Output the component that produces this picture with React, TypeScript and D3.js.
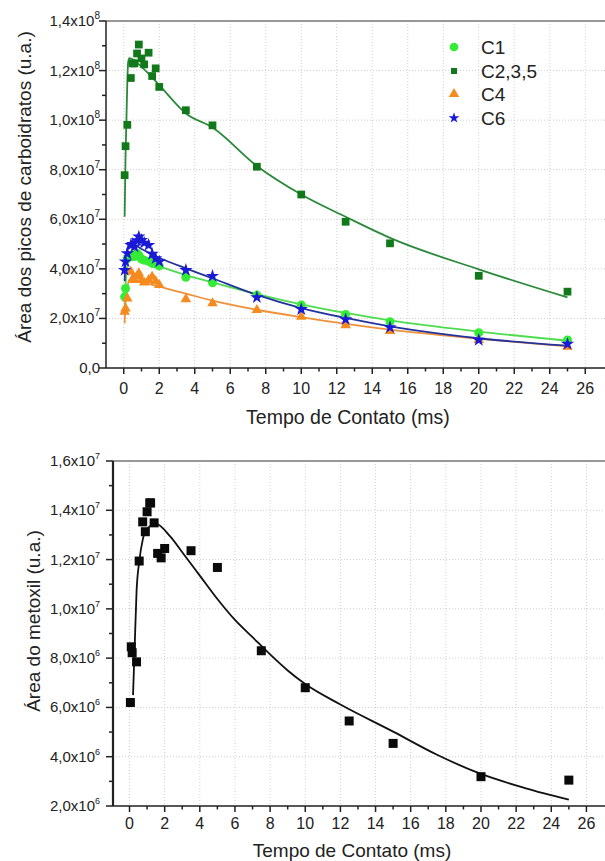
import React from 'react';
import * as d3 from 'd3';

const W = 605;
const H = 861;
const FONT = '"Liberation Sans", Arial, sans-serif';

// ---- top chart: carbohydrate peak areas ----
const tPts = [0.05, 0.1, 0.2, 0.4, 0.5, 0.6, 0.75, 0.85, 1.0, 1.15, 1.4, 1.6, 1.8, 2.0, 3.5, 5, 7.5, 10, 12.5, 15, 20, 25];
const c1Vals = [2.87e7, 3.21e7, 4.42e7, 4.5e7, 4.56e7, 4.5e7, 4.62e7, 4.55e7, 4.4e7, 4.35e7, 4.3e7, 4.22e7, 4.2e7, 4.12e7, 3.66e7, 3.44e7, 2.94e7, 2.54e7, 2.16e7, 1.87e7, 1.42e7, 1.13e7];
const c235Vals = [7.78e7, 8.95e7, 9.81e7, 1.17e8, 1.229e8, 1.229e8, 1.269e8, 1.305e8, 1.249e8, 1.225e8, 1.272e8, 1.178e8, 1.209e8, 1.134e8, 1.04e8, 9.79e7, 8.12e7, 7.0e7, 5.9e7, 5.03e7, 3.72e7, 3.08e7];
const c4Vals = [2.27e7, 2.4e7, 2.81e7, 3.88e7, 3.6e7, 3.55e7, 3.7e7, 3.82e7, 3.55e7, 3.45e7, 3.55e7, 3.68e7, 3.5e7, 3.35e7, 2.78e7, 2.61e7, 2.34e7, 2.07e7, 1.73e7, 1.49e7, 1.13e7, 0.86e7];
const c6Vals = [3.95e7, 4.29e7, 4.62e7, 4.96e7, 5.0e7, 4.9e7, 5.15e7, 5.3e7, 5.16e7, 5.05e7, 4.96e7, 4.6e7, 4.42e7, 4.29e7, 3.95e7, 3.71e7, 2.85e7, 2.37e7, 1.96e7, 1.64e7, 1.13e7, 0.97e7];

// fitted curves
const fitT = [0.05, 0.1, 0.2, 0.35, 1, 2, 3.5, 5, 7.5, 10, 12.5, 15, 20, 25];
const c1Fit = [2.4e7, 3.3e7, 4.1e7, 4.5e7, 4.35e7, 4.1e7, 3.75e7, 3.45e7, 2.98e7, 2.57e7, 2.22e7, 1.92e7, 1.47e7, 1.1e7];
const c4Fit = [1.8e7, 2.6e7, 3.25e7, 3.55e7, 3.45e7, 3.28e7, 3.0e7, 2.72e7, 2.35e7, 2.05e7, 1.78e7, 1.55e7, 1.18e7, 0.87e7];
const c6Fit = [3.5e7, 4.3e7, 4.8e7, 5.02e7, 4.8e7, 4.45e7, 4.02e7, 3.62e7, 2.95e7, 2.42e7, 2.02e7, 1.68e7, 1.2e7, 0.9e7];
const c235FitT = [0.05, 0.1, 0.15, 0.2, 0.25, 0.32, 1, 2, 3.5, 5, 7.5, 10, 12.5, 15, 20, 25];
const c235Fit = [6.1e7, 8.5e7, 1.0e8, 1.15e8, 1.235e8, 1.25e8, 1.215e8, 1.141e8, 1.027e8, 9.7e7, 8.15e7, 7.0e7, 6.1e7, 5.25e7, 3.98e7, 2.85e7];

// ---- bottom chart: methoxyl area ----
const tMet = [0.05, 0.1, 0.15, 0.4, 0.55, 0.75, 0.9, 1.0, 1.15, 1.2, 1.4, 1.6, 1.8, 2.0, 3.5, 5, 7.5, 10, 12.5, 15, 20, 25];
const metVals = [6.2e6, 8.46e6, 8.22e6, 7.85e6, 1.194e7, 1.353e7, 1.313e7, 1.394e7, 1.43e7, 1.43e7, 1.349e7, 1.225e7, 1.207e7, 1.245e7, 1.236e7, 1.168e7, 8.3e6, 6.8e6, 5.45e6, 4.54e6, 3.19e6, 3.05e6];
const metFitT = [0.2, 0.3, 0.4, 0.55, 0.75, 1.0, 1.5, 2.3, 3, 4, 5, 6, 7, 8, 9, 10, 12, 15, 17.5, 20, 22.5, 25];
const metFit = [6.5e6, 8.6e6, 1.07e7, 1.19e7, 1.28e7, 1.325e7, 1.345e7, 1.295e7, 1.23e7, 1.135e7, 1.04e7, 9.55e6, 8.85e6, 8.15e6, 7.5e6, 6.95e6, 6.12e6, 5.02e6, 4.08e6, 3.3e6, 2.73e6, 2.26e6];

const xTicks = d3.range(0, 27, 2);
const xMinor = d3.range(1, 27, 2);

type Series = { name: string; vals: number[]; fit: number[]; fitT: number[]; color: string; line: string; symbol: d3.SymbolType; size: number; legSize: number };

const series: Series[] = [
  { name: 'C1', vals: c1Vals, fit: c1Fit, fitT, color: '#35ec35', line: '#4cdd4c', symbol: d3.symbolCircle, size: 64, legSize: 60 },
  { name: 'C2,3,5', vals: c235Vals, fit: c235Fit, fitT: c235FitT, color: '#12791a', line: '#2a8a3a', symbol: d3.symbolSquare, size: 60, legSize: 36 },
  { name: 'C4', vals: c4Vals, fit: c4Fit, fitT, color: '#f58a1f', line: '#f0913a', symbol: d3.symbolTriangle, size: 48, legSize: 48 },
  { name: 'C6', vals: c6Vals, fit: c6Fit, fitT, color: '#1a1ad6', line: '#22339e', symbol: d3.symbolStar, size: 55, legSize: 36 },
];

function sciLabel(v: number) {
  if (v === 0) return { m: '0,0', e: '' };
  const e = Math.floor(Math.log10(v) + 1e-9);
  const m = (v / Math.pow(10, e)).toFixed(1).replace('.', ',');
  return { m: m + 'x10', e: String(e) };
}

function Axes({ x, y, yMajor, yMinor, gridColor, leftW, tickFont, supFont, xLabY, yTickX }: any) {
  const [x0] = x.range();
  const [yb, yt] = y.range();
  return (
    <g>
      {/* grid */}
      {xTicks.map((t) => (
        <line key={'gx' + t} x1={x(t)} x2={x(t)} y1={yt} y2={yb} stroke={gridColor} strokeDasharray="1 2" />
      ))}
      {yMajor.map((v: number) => (
        <line key={'gy' + v} x1={x0} x2={W} y1={y(v)} y2={y(v)} stroke={gridColor} strokeDasharray="1 2" />
      ))}
      {/* frame */}
      <line x1={x0} x2={W} y1={yt} y2={yt} stroke="#777" strokeWidth={1.5} />
      <line x1={x0} x2={W} y1={yb} y2={yb} stroke="#222" strokeWidth={1.5} />
      <line x1={x0} x2={x0} y1={yt} y2={yb} stroke="#222" strokeWidth={leftW} />
      {/* x ticks */}
      {xTicks.map((t) => (
        <g key={'xt' + t}>
          <line x1={x(t)} x2={x(t)} y1={yb} y2={yb + 6} stroke="#222" strokeWidth={1.5} />
          <text x={x(t)} y={xLabY} textAnchor="middle" fontSize={tickFont} fill="#222">{t}</text>
        </g>
      ))}
      {xMinor.map((t) => (
        <line key={'xm' + t} x1={x(t)} x2={x(t)} y1={yb} y2={yb + 3.5} stroke="#222" strokeWidth={1.5} />
      ))}
      {/* y ticks */}
      {yMajor.map((v: number) => {
        const l = sciLabel(v);
        return (
          <g key={'yt' + v}>
            <line x1={x0 - 7} x2={x0} y1={y(v)} y2={y(v)} stroke="#222" strokeWidth={1.5} />
            <text x={yTickX} y={y(v) + 5} textAnchor="end" fontSize={tickFont - 1} fill="#222">
              {l.m}
              {l.e && <tspan dy={-7} fontSize={supFont}>{l.e}</tspan>}
            </text>
          </g>
        );
      })}
      {yMinor.map((v: number) => (
        <line key={'ym' + v} x1={x0 - 4} x2={x0} y1={y(v)} y2={y(v)} stroke="#222" strokeWidth={1.5} />
      ))}
    </g>
  );
}

export default function App() {
  // top chart scales
  const xTop = d3.scaleLinear().domain([-1, 27]).range([106, 603]);
  const yTop = d3.scaleLinear().domain([0, 1.4e8]).range([368, 21]);
  const yTopMajor = d3.range(0, 1.41e8, 2e7);
  const yTopMinor = d3.range(1e7, 1.4e8, 2e7);

  // bottom chart scales
  const xBot = d3.scaleLinear().domain([-0.94, 27]).range([113, 604]);
  const yBot = d3.scaleLinear().domain([2e6, 1.6e7]).range([806, 461]);
  const yBotMajor = d3.range(2e6, 1.61e7, 2e6);
  const yBotMinor = d3.range(3e6, 1.6e7, 2e6);

  const lineTop = (ts: number[], vs: number[]) =>
    d3.line<number>().x((_, i) => xTop(ts[i])).y((v) => yTop(v)).curve(d3.curveMonotoneX)(vs) || '';
  const lineBot = d3.line<number>().x((_, i) => xBot(metFitT[i])).y((v) => yBot(v)).curve(d3.curveMonotoneX)(metFit) || '';

  const legY = [47, 71, 94, 118];

  return (
    <svg width={W} height={H} style={{ position: 'absolute', left: 0, top: 0, background: '#fff' }} fontFamily={FONT}>
      <rect width={W} height={H} fill="#fff" />
      {/* ===== top chart ===== */}
      <Axes x={xTop} y={yTop} yMajor={yTopMajor} yMinor={yTopMinor} gridColor="#cfcfcf" leftW={1.5} tickFont={16} supFont={10} xLabY={394} yTickX={100} />
      {series.map((s) => (
        <path key={'f' + s.name} d={lineTop(s.fitT, s.fit)} fill="none" stroke={s.line} strokeWidth={1.8} />
      ))}
      {series.map((s) => (
        <g key={'p' + s.name}>
          {s.vals.map((v, i) => (
            <path key={i} transform={`translate(${xTop(tPts[i])},${yTop(v)})`} d={d3.symbol(s.symbol, s.size)() || ''} fill={s.color} />
          ))}
        </g>
      ))}
      {/* legend */}
      {series.map((s, i) => (
        <g key={'l' + s.name}>
          <path transform={`translate(454,${legY[i]})`} d={d3.symbol(s.symbol, s.legSize)() || ''} fill={s.color} />
          <text x={481} y={legY[i] + 7} fontSize={19} fill="#222">{s.name}</text>
        </g>
      ))}
      <text transform="translate(31,187) rotate(-90)" textAnchor="middle" fontSize={19} fill="#222">Área dos picos de carboidratos (u.a.)</text>
      <text x={348} y={424} textAnchor="middle" fontSize={19.5} fill="#222">Tempo de Contato (ms)</text>

      {/* ===== bottom chart ===== */}
      <Axes x={xBot} y={yBot} yMajor={yBotMajor} yMinor={yBotMinor} gridColor="#cfcfcf" leftW={2.2} tickFont={16} supFont={9} xLabY={829} yTickX={100} />
      <path d={lineBot} fill="none" stroke="#111" strokeWidth={1.8} />
      {metVals.map((v, i) => (
        <rect key={'m' + i} x={xBot(tMet[i]) - 4.5} y={yBot(v) - 4.5} width={9} height={9} fill="#0a0a0a" />
      ))}
      <text transform="translate(40,621) rotate(-90)" textAnchor="middle" fontSize={19} fill="#222">Área do metoxil (u.a.)</text>
      <text x={352} y={857} textAnchor="middle" fontSize={19} fill="#222">Tempo de Contato (ms)</text>
    </svg>
  );
}
